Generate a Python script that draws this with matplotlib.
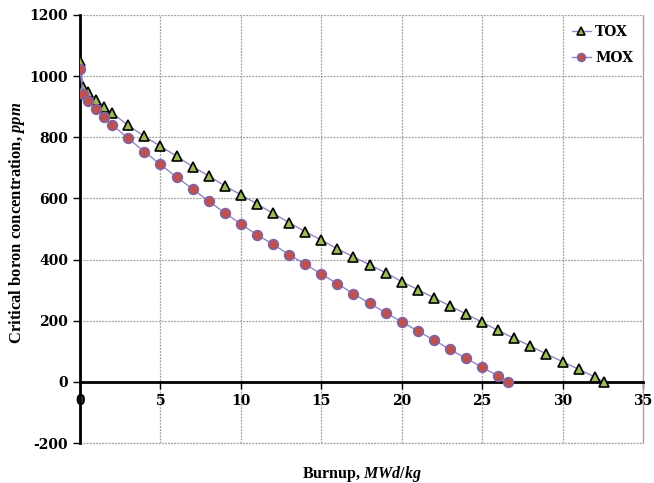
import matplotlib.pyplot as plt

# === Datos ===
burnup_tox = [0, 0.2, 0.5, 1, 1.5, 2, 3, 4, 5, 6, 7, 8, 9, 10, 11, 12, 13, 14, 15,
              16, 17, 18, 19, 20, 21, 22, 23, 24, 25, 26, 27, 28, 29, 30, 31, 32, 32.55]
boron_tox = [1048, 966, 949, 922, 900, 879, 839, 803, 771, 738, 704, 674, 641, 612,
             582, 551, 521, 491, 464, 435, 409, 383, 357, 328, 302, 275, 248, 222,
             195, 168, 142, 117, 91, 66, 41, 16, 0]

burnup_mox = [0, 0.2, 0.5, 1, 1.5, 2, 3, 4, 5, 6, 7, 8, 9, 10, 11, 12, 13, 14, 15,
              16, 17, 18, 19, 20, 21, 22, 23, 24, 25, 26, 26.6]
boron_mox = [1022, 941, 919, 892, 865, 841, 796, 753, 711, 670, 631, 591, 553, 516,
             481, 450, 416, 385, 353, 321, 288, 257, 226, 197, 166, 137, 106, 77, 48,
             19, 0]

x_ticks = [0, 5, 10, 15, 20, 25, 30, 35]
y_ticks = [-200, 0, 200, 400, 600, 800, 1000, 1200]

# === Estilo ===
plt.rcParams['font.family'] = 'DejaVu Serif'
plt.rcParams['font.weight'] = 'bold'
plt.rcParams['axes.unicode_minus'] = False
plt.rcParams['mathtext.fontset'] = 'custom'
plt.rcParams['mathtext.it'] = 'Liberation Serif:italic:bold'
plt.rcParams['mathtext.rm'] = 'Liberation Serif:bold'

linea = "#9585c4"
rejilla = "#a0a0a0"

fig = plt.figure(figsize=(6.54, 4.83), dpi=100)
ax = fig.add_axes([0.1223, 0.0828, 0.8609, 0.8862])

ax.plot(burnup_tox, boron_tox, color=linea, lw=1, marker="^", ms=6.5,
        mfc="#9bbb59", mec="black", mew=1.2, label="TOX", zorder=3)
ax.plot(burnup_mox, boron_mox, color=linea, lw=1, marker="o", ms=7,
        mfc="#c0504d", mec="#8064a2", mew=1.2, label="MOX", zorder=3)

ax.set_xlim(0, 35)
ax.set_ylim(-200, 1200)
ax.set_xticks(x_ticks)
ax.set_yticks(y_ticks)
ax.tick_params(labelsize=10, direction="out", length=5, width=1)

ax.grid(True, color=rejilla, ls=(0, (1.5, 1)), lw=0.9)

ax.spines['bottom'].set_position(('data', 0))
ax.spines['bottom'].set_linewidth(2)
ax.spines['left'].set_linewidth(2)
ax.spines['top'].set_visible(False)
ax.spines['right'].set_color(rejilla)
ax.spines['right'].set_linewidth(0.9)
ax.axhline(-200, color=rejilla, lw=0.9, ls=(0, (1.5, 1)), clip_on=False)

ax.set_xlabel(r"Burnup, $\mathit{MWd/kg}$", fontsize=11.5, fontweight="bold",
              family="Liberation Serif")
ax.xaxis.set_label_coords(0.5, -0.05)
ax.set_ylabel(r"Critical boron concentration, $\mathit{ppm}$", fontsize=12,
              fontweight="bold", family="Liberation Serif")
ax.yaxis.set_label_coords(-0.094, 0.514)

leg = ax.legend(loc="upper right", frameon=False, fontsize=10, handlelength=1.4,
                markerscale=0.8, handletextpad=0.3, borderaxespad=0.3, labelspacing=0.9)

fig.savefig("out.png", dpi=100)
